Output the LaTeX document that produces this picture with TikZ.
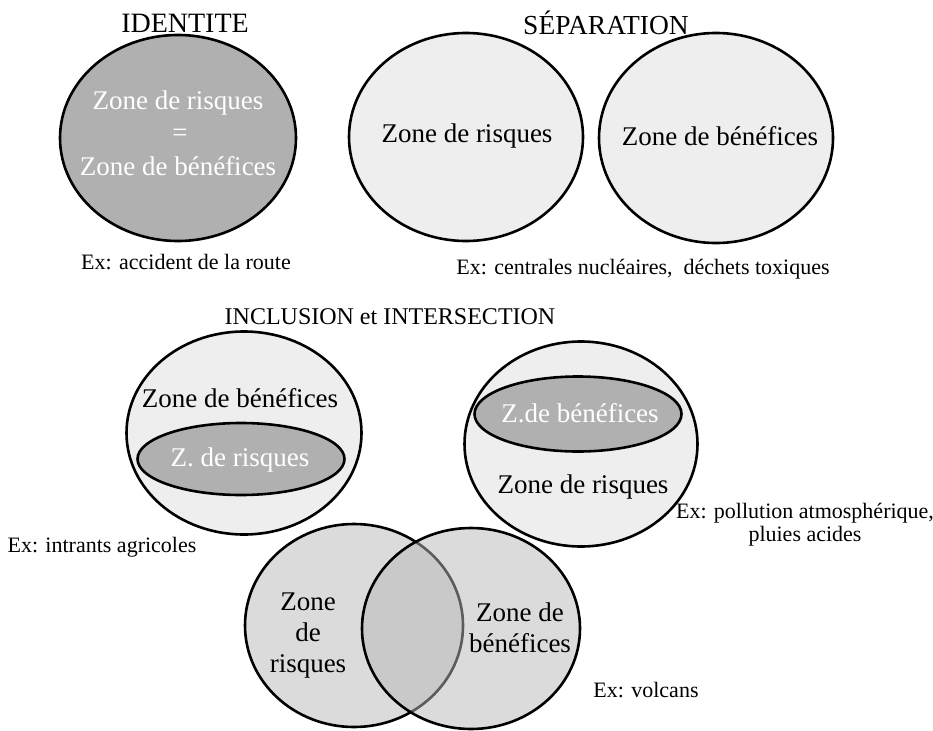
\documentclass[tikz,border=0pt]{standalone}
\usepackage{fontspec}
\setmainfont{Liberation Serif}
\usetikzlibrary{shapes.geometric}
\definecolor{darkfill}{gray}{0.69}
\definecolor{lightfill}{gray}{0.935}
\definecolor{vennfill}{gray}{0.86}
\definecolor{vennfillR}{gray}{0.72}
\tikzset{
  zone/.style={ellipse, draw=black, line width=2.6pt, inner sep=0pt},
  titletext/.style={font=\fontsize{25}{29}\selectfont, inner sep=0pt},
  labeltext/.style={font=\fontsize{27}{31}\selectfont, inner sep=0pt, align=center},
  whitetext/.style={labeltext, text=white},
  extext/.style={font=\fontsize{22}{24}\selectfont, inner sep=0pt, align=center}
}
\begin{document}
\begin{tikzpicture}[x=1pt,y=-1pt]
\useasboundingbox (0,0) rectangle (933,730);
% titles
\node[titletext, font=\fontsize{28}{32}\selectfont] (tIdent) at (185,23) {IDENTITE};
\node[titletext, font=\fontsize{27.5}{31}\selectfont] (tSep) at (606,23) {SÉPARATION};
\node[titletext, font=\fontsize{24}{28}\selectfont] (tIncl) at (390,317) {INCLUSION et INTERSECTION};
% identite
\node[zone, fill=darkfill, minimum width=236pt, minimum height=206pt] (eIdent) at (178,138) {};
\node[whitetext] (idA) at (178,103) {Zone de risques};
\node[whitetext] (idEq) at (180,135) {=};
\node[whitetext] (idB) at (178,166) {Zone de bénéfices};
\node[extext] (exIdent) at (186,262) {Ex: accident de la route};
% separation
\node[zone, fill=lightfill, minimum width=234pt, minimum height=208pt] (eSepL) at (466,137) {};
\node[zone, fill=lightfill, minimum width=234pt, minimum height=210pt] (eSepR) at (716,138) {};
\node[labeltext] (sepA) at (467,136) {Zone de risques};
\node[labeltext] (sepB) at (720,136) {Zone de bénéfices};
\node[extext] (exSep) at (643,269) {Ex: centrales nucléaires,~ déchets toxiques};
% inclusion left
\node[zone, fill=lightfill, minimum width=235pt, minimum height=203pt] (eInclL) at (244,433) {};
\node[zone, fill=darkfill, minimum width=207pt, minimum height=72pt] (eInclLin) at (241,459) {};
\node[labeltext] (inclLA) at (240,398) {Zone de bénéfices};
\node[whitetext] (inclLB) at (240,460) {Z. de risques};
\node[extext] (exInclL) at (102,547) {Ex: intrants agricoles};
% inclusion right
\node[zone, fill=lightfill, minimum width=233pt, minimum height=205pt] (eInclR) at (581,444) {};
\node[zone, fill=darkfill, minimum width=207pt, minimum height=75pt] (eInclRin) at (578,414) {};
\node[whitetext] (inclRA) at (580,413) {Z.de bénéfices};
\node[labeltext] (inclRB) at (583,487) {Zone de risques};
\node[extext, font=\fontsize{22}{23}\selectfont] (exInclR) at (805,525) {Ex: pollution atmosphérique,\\pluies acides};
% intersection
\node[zone, fill=vennfill, minimum width=218pt, minimum height=203pt] (vennL) at (354,625.5) {};
\node[zone, fill=vennfillR, fill opacity=0.5, draw opacity=1, minimum width=218pt, minimum height=201pt] (vennR) at (471,628.5) {};
\node[labeltext] (vennA) at (308,636) {Zone\\de\\risques};
\node[labeltext] (vennB) at (520,628) {Zone de\\bénéfices};
\node[extext] (exVenn) at (646,690) {Ex: volcans};
\end{tikzpicture}
\end{document}
